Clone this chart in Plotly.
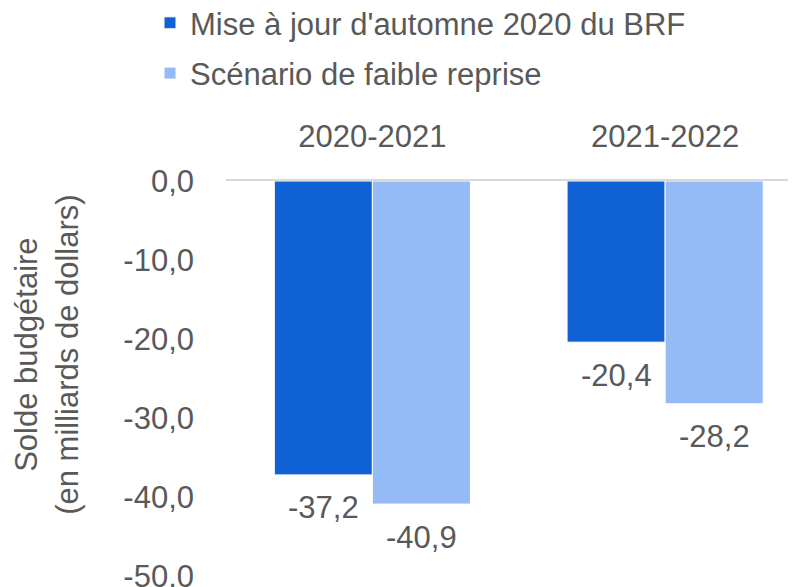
import plotly.graph_objects as go

periodes = ["2020-2021", "2021-2022"]
brf_automne = [-37.2, -20.4]
faible_reprise = [-40.9, -28.2]
y_ticks = [0, -10, -20, -30, -40, -50]
y_tick_labels = ["0,0", "-10,0", "-20,0", "-30,0", "-40,0", "-50,0"]

gris = "#595959"
police = "Liberation Sans, Arial, sans-serif"
taille = 31

fig = go.Figure()
fig.add_trace(go.Bar(x=periodes, y=brf_automne, name="Mise à jour d'automne 2020 du BRF",
                     legendgroup="a", marker=dict(color="#1060D6", line=dict(color="white", width=1))))
fig.add_trace(go.Bar(x=periodes, y=faible_reprise, name="Scénario de faible reprise",
                     legendgroup="b", marker=dict(color="#94BBF6", line=dict(color="white", width=1))))

# etiquettes sous les barres
for serie, decal in ((brf_automne, -49), (faible_reprise, 49)):
    for p, v in zip(periodes, serie):
        fig.add_annotation(x=p, y=v, text=f"{v:.1f}".replace(".", ","), showarrow=False,
                           xshift=decal, yshift=-33, yanchor="middle",
                           font=dict(size=taille, color=gris, family=police))

fig.add_annotation(xref="paper", yref="paper", x=-0.314, y=0.56, xanchor="center", yanchor="middle",
                   text="Solde budgétaire<br>(en milliards de dollars)", textangle=-90, showarrow=False,
                   font=dict(size=taille, color=gris, family=police))

# la page html ajoute 8 px de marge autour de la figure
fig.update_layout(
    width=788, height=579,
    margin=dict(l=218, r=0, t=173, b=11, autoexpand=False),
    plot_bgcolor="white", paper_bgcolor="white",
    barmode="group", bargap=0.33, bargroupgap=0,
    font=dict(family=police, size=taille, color=gris),
    legend=dict(x=142 / 788, xref="container", y=1.468, yref="paper", xanchor="left", yanchor="top",
                font=dict(size=taille, color=gris), traceorder="grouped", tracegroupgap=7),
)
fig.update_xaxes(side="top", range=[-0.5, 1.447], showline=True, linecolor="#D9D9D9", linewidth=2,
                 ticks="", showgrid=False, automargin=False, ticklabelstandoff=20,
                 tickfont=dict(size=taille, color=gris))
fig.update_yaxes(range=[-50, 0], tickvals=y_ticks, ticktext=y_tick_labels, showgrid=False,
                 zeroline=False, ticks="", automargin=False, ticklabelstandoff=31,
                 ticklabeloverflow="allow", tickfont=dict(size=taille, color=gris))

fig.write_html("out.html")
